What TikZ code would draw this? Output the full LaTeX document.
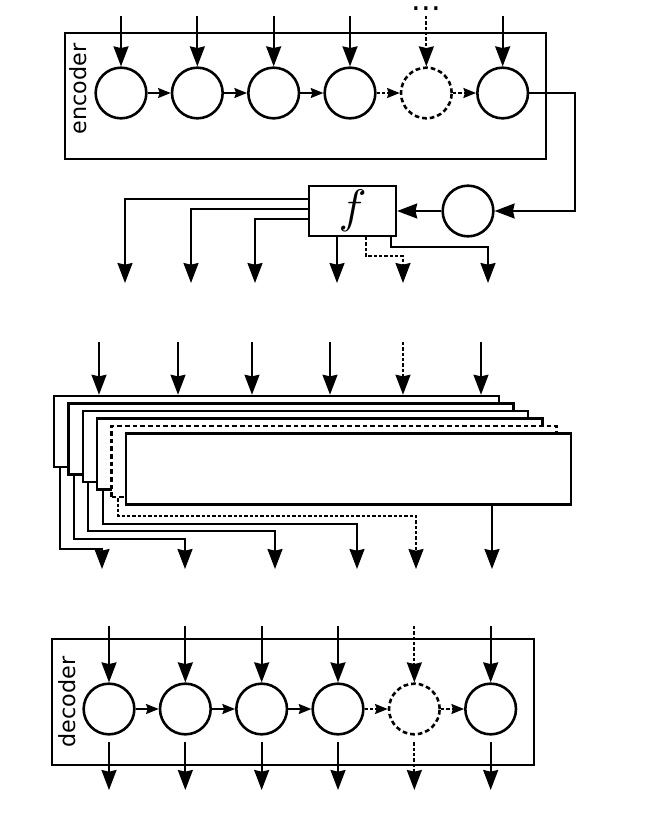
\documentclass[tikz,border=0pt]{standalone}
\usepackage{fontspec}
\newfontfamily\labelfont{DejaVu Sans}
\usetikzlibrary{arrows.meta,positioning}

\begin{document}
\begin{tikzpicture}[x=0.03cm,y=-0.03cm,>={Stealth[length=0.6cm,width=0.45cm,inset=0.05cm]},node distance=2.29cm,line width=1.6pt]
  \tikzstyle{cell}=[circle,draw,line width=2.2pt,minimum size=1.52cm,inner sep=0pt]
  \tikzstyle{ghostline}=[dash pattern=on 0.14cm off 0.09cm]
  \tikzstyle{ghost}=[cell,ghostline]
  \tikzstyle{faint}=[dash pattern=on 0.1cm off 0.06cm]
  \tikzstyle{frame}=[draw,line width=1.7pt,inner sep=0pt,minimum width=14.43cm,minimum height=3.78cm]
  \tikzstyle{layer}=[draw,fill=white,line width=2.2pt,inner sep=0pt,minimum width=13.35cm,minimum height=2.13cm]
  \tikzstyle{link}=[-{Stealth[length=0.38cm,width=0.3cm,inset=0.05cm]}]
  \tikzstyle{tag}=[rotate=90,inner sep=0pt,font=\labelfont\fontsize{19}{22}\selectfont]
\useasboundingbox (0,0) rectangle (664,832);
% encoder
\node[frame] (enc) at (305.5,96) {};
\node[tag] (enctext) at (78,89) {encoder};
\node[cell] (e1) at (121,93) {};
\node[cell] (e2) [right of=e1] {};
\node[cell] (e3) [right of=e2] {};
\node[cell] (e4) [right of=e3] {};
\node[ghost] (e5) [right of=e4] {};
\node[cell] (e6) [right of=e5] {};
\node[anchor=base,inner sep=0pt,font=\labelfont\fontsize{26}{28}\selectfont] (more) at (e5 |- 0,10) {...};
\foreach \k in {1,...,6} \coordinate (ei\k) at (e\k |- 0,16);
\foreach \k in {1,2,3,4,6} \draw[->] (ei\k) -- (e\k);
\draw[->,faint] (ei5) -- (e5);
\path
(e1) edge [link] (e2)
(e2) edge [link] (e3)
(e3) edge [link] (e4)
(e4) edge [link,faint] (e5)
(e5) edge [link,faint] (e6);
% f
\coordinate (turn) at (575,211);
\node[cell] (c) at (468,211) {};
\node[draw,line width=2pt,minimum width=2.61cm,minimum height=1.41cm] (f) at (352.5,211) {\scalebox{4}{$f$}};
\draw[->] (e6) -| (turn) -- (c);
\draw[->] (c) -- (f);
\foreach \x [count=\k] in {125,191,255,337,403,488} \coordinate (o\k) at (\x,283);
\draw[->] (f.west |- 0,199) -| (o1);
\draw[->] (f.west |- 0,209) -| (o2);
\draw[->] (f.west |- 0,219) -| (o3);
\draw[->] (f.south -| o4) -- (o4);
\draw[->,faint] (f.south -| 366,0) |- (o5 |- 0,256) -- (o5);
\draw[->] (f.south -| 391,0) |- (o6 |- 0,247) -- (o6);
% stack
\foreach \k/\s in {1/solid,2/solid,3/solid,4/solid,5/ghostline,6/solid}
  \node[layer,\s] (r\k) at ({276.5+14.4*(\k-1)},{431.5+7.5*(\k-1)}) {};
\foreach \x [count=\k] in {99,178,252,330,403,481} \coordinate (mi\k) at (\x,342);
\foreach \k in {1,2,3,4,6} \draw[->] (mi\k) -- (mi\k |- r1.north);
\draw[->,faint] (mi5) -- (mi5 |- r1.north);
\foreach \x [count=\k] in {102,185,275,357,416,492} \coordinate (s\k) at (\x,569);
\foreach \k/\x/\y in {1/60/549,2/74/539,3/88/531,4/103/524}
  \draw[->] (r\k.south west -| \x,0) |- (s\k |- 0,\y) -- (s\k);
\draw[->,faint] (r5.south west -| 118,0) |- (s5 |- 0,516) -- (s5);
\draw[->] (r6.south -| s6) -- (s6);
% decoder
\node[frame] (dec) at (293,702) {};
\node[tag] (dectext) at (67,702) {decoder};
\node[cell] (d1) at (109,709) {};
\node[cell] (d2) [right of=d1] {};
\node[cell] (d3) [right of=d2] {};
\node[cell] (d4) [right of=d3] {};
\node[ghost] (d5) [right of=d4] {};
\node[cell] (d6) [right of=d5] {};
\foreach \k in {1,...,6} {
  \coordinate (di\k) at (d\k |- 0,626);
  \coordinate (do\k) at (d\k |- 0,790);
}
\foreach \k in {1,2,3,4,6} {
  \draw[->] (di\k) -- (d\k);
  \draw[->,shorten <=0.2cm] (d\k) -- (do\k);
}
\draw[->,faint] (di5) -- (d5);
\draw[->,faint,shorten <=0.2cm] (d5) -- (do5);
\path
(d1) edge [link] (d2)
(d2) edge [link] (d3)
(d3) edge [link] (d4)
(d4) edge [link,faint] (d5)
(d5) edge [link,faint] (d6);
\end{tikzpicture}
\end{document}
